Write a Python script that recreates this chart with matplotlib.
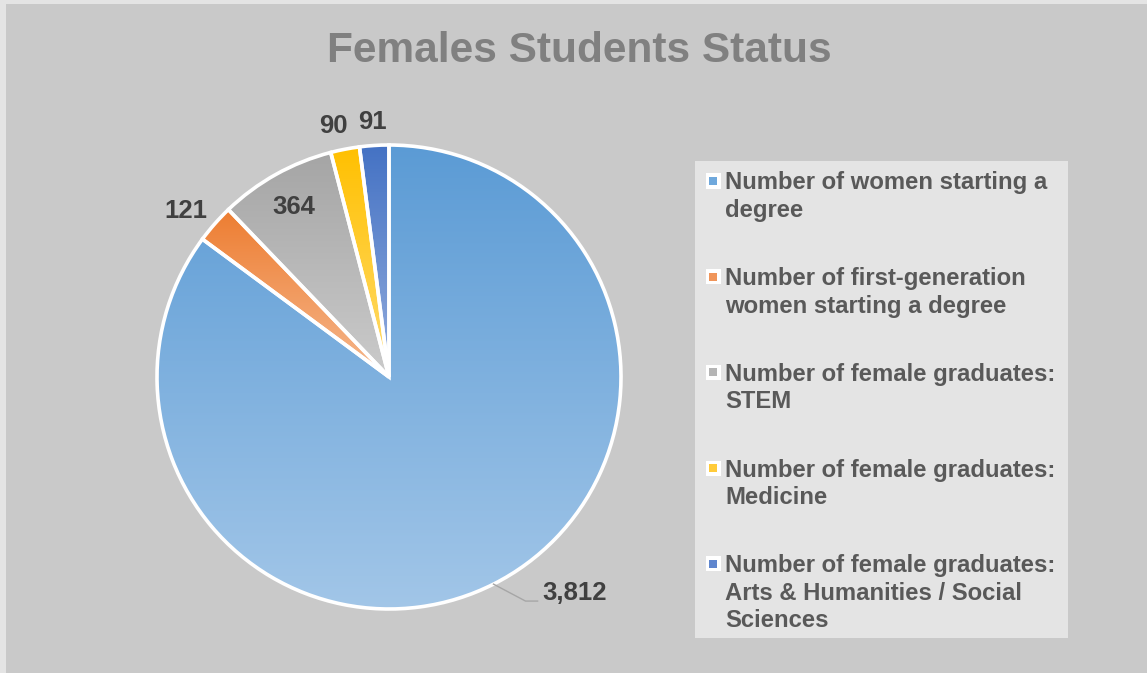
import textwrap
import numpy as np
import matplotlib
matplotlib.use("Agg")
import matplotlib.pyplot as plt
from matplotlib.colors import to_rgb
from matplotlib.patches import Rectangle

# ---- data ----
title = "Females Students Status"
categories = [
    "Number of women starting a degree",
    "Number of first-generation women starting a degree",
    "Number of female graduates: STEM",
    "Number of female graduates: Medicine",
    "Number of female graduates: Arts & Humanities / Social Sciences",
]
values = [3812, 121, 364, 90, 91]
value_labels = ["3,812", "121", "364", "90", "91"]

# ---- styles ----
top_colors = ["#5B9BD5", "#ED7D31", "#A5A5A5", "#FFC000", "#4472C4"]
bottom_colors = ["#A2C6E8", "#F6B88E", "#CBCBCB", "#FFDC70", "#94ADDD"]
mid_colors = ["#6FA8DC", "#F0955A", "#B5B5B5", "#FFCB3A", "#5F86CE"]
label_radius = [None, 1.13, 0.84, 1.11, 1.10]
label_shift = [0, 2.0, 0, 1.5, 0]  # degrees, counter-clockwise nudge

W, H = 1147, 673
fig = plt.figure(figsize=(W / 100, H / 100), dpi=100)
fig.patch.set_facecolor("#E4E4E4")
fig.add_artist(Rectangle((6 / W, 0), 1 - 6 / W, 1 - 4 / H, transform=fig.transFigure,
                         facecolor="#C9C9C9", edgecolor="none", zorder=0))

font = "Liberation Sans"

# title
fig.text(579 / W, 1 - 51 / H, title, ha="center", va="center", fontsize=30.5,
         fontweight="bold", color="#808080", family=font)

# pie axes (pixel geometry)
cx, cy, R = 389, 377, 232
ax = fig.add_axes([(cx - R) / W, (H - cy - R) / H, 2 * R / W, 2 * R / H])
ax.set_facecolor("none")
wedges, _ = ax.pie(values, startangle=90, counterclock=False, radius=1,
                   wedgeprops=dict(edgecolor="white", linewidth=2.6))

for i, w in enumerate(wedges):
    ext = w.get_path().get_extents()
    c0 = np.array(to_rgb(top_colors[i]))
    c1 = np.array(to_rgb(bottom_colors[i]))
    t = np.linspace(0, 1, 256)[:, None, None]
    img = c0[None, None, :] * (1 - t) + c1[None, None, :] * t
    im = ax.imshow(img, extent=(ext.x0, ext.x1, ext.y0, ext.y1), origin="upper",
                   aspect="auto", zorder=1, interpolation="bilinear")
    im.set_clip_path(w)
    w.set_facecolor("none")
    w.set_zorder(2)

ax.set_xlim(-1, 1)
ax.set_ylim(-1, 1)
ax.set_aspect("equal")
ax.axis("off")

# data labels
total = sum(values)
ang = 90.0
for i, (v, lab) in enumerate(zip(values, value_labels)):
    span = 360.0 * v / total
    mid = np.deg2rad(ang - span / 2)
    ang -= span
    if label_radius[i] is None:
        ex, ey = np.cos(mid), np.sin(mid)
        elbow = (ex + 0.138, ey - 0.073)
        end = (elbow[0] + 0.052, elbow[1])
        ax.plot([ex, elbow[0], end[0]], [ey, elbow[1], end[1]], color="#A6A6A6",
                lw=1.0, zorder=3, clip_on=False)
        ax.text(end[0] + 0.022, end[1] + 0.034, lab, ha="left", va="center",
                fontsize=18.5, fontweight="bold", color="#404040", family=font,
                zorder=4, clip_on=False)
    else:
        r = label_radius[i]
        a = mid + np.deg2rad(label_shift[i])
        ax.text(r * np.cos(a), r * np.sin(a), lab, ha="center", va="center",
                fontsize=18.5, fontweight="bold", color="#404040", family=font,
                zorder=4, clip_on=False)

# legend box
lx0, ly0, lx1, ly1 = 695, 161, 1068, 638
fig.add_artist(Rectangle((lx0 / W, 1 - ly1 / H), (lx1 - lx0) / W, (ly1 - ly0) / H,
                         transform=fig.transFigure, facecolor="#E4E4E4",
                         edgecolor="none", zorder=1))
entry_y0, entry_dy = 181, 95.7
for i, cat in enumerate(categories):
    yc = entry_y0 + i * entry_dy
    wrapped = textwrap.fill(cat, width=27, break_on_hyphens=False)
    # marker
    fig.add_artist(Rectangle((706 / W, 1 - (yc + 7.5) / H), 15 / W, 15 / H,
                             transform=fig.transFigure, facecolor="white",
                             edgecolor="none", zorder=2))
    fig.add_artist(Rectangle((709.5 / W, 1 - (yc + 4) / H), 8 / W, 8 / H,
                             transform=fig.transFigure, facecolor=mid_colors[i],
                             edgecolor="none", zorder=3))
    fig.text(725 / W, 1 - (yc - 9.5) / H, wrapped, ha="left", va="top",
             fontsize=17.2, fontweight="bold", color="#595959", family=font,
             linespacing=1.25, zorder=3)

fig.savefig("out.png", dpi=100, facecolor=fig.get_facecolor())
